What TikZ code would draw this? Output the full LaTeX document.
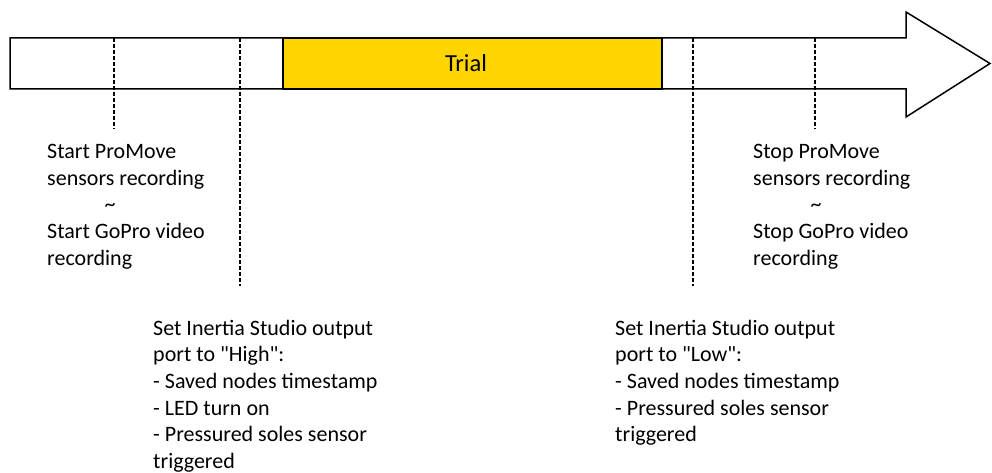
\documentclass[tikz,border=0pt]{standalone}
\usepackage{fontspec}
\setmainfont{Carlito}
\definecolor{trialyellow}{HTML}{FFD500}
\begin{document}
\begin{tikzpicture}[x=1pt,y=-1pt,
  outline/.style={draw=black,line width=1.5pt,line join=miter},
  marker/.style={draw=black,line width=1.2pt,dash pattern=on 4pt off 2pt},
  label/.style={anchor=base west,inner sep=0pt,align=left,font=\fontsize{22}{26.7}\selectfont},
  trialbox/.style={draw=black,line width=1.5pt,fill=trialyellow,minimum width=379pt,minimum height=51pt,inner sep=0pt,font=\fontsize{24.5}{29}\selectfont}]
\useasboundingbox (0,0) rectangle (992,473);
% timeline arrow
\draw[outline,fill=white] (10,38) -- (906,38) -- (906,12) -- (990,63.5) -- (906,117) -- (906,89) -- (10,89) -- cycle;
\node[trialbox] (trial) at (472.5,63.5) {Trial\hspace*{13pt}};
% markers
\coordinate (m1top) at (114,38); \coordinate (m1end) at (114,129);
\coordinate (m2top) at (240,38); \coordinate (m2end) at (240,286);
\coordinate (m3top) at (693,38); \coordinate (m3end) at (693,286);
\coordinate (m4top) at (815,38); \coordinate (m4end) at (815,129);
\draw[marker] (m1top) -- (m1end);
\draw[marker] (m2top) -- (m2end);
\draw[marker] (m3top) -- (m3end);
\draw[marker] (m4top) -- (m4end);
% labels (anchor = baseline of the last line)
\node[label] (start) at (47,265.3) {Start ProMove\\sensors recording\\\hspace*{57.5pt}\textasciitilde\\Start GoPro video\\recording};
\node[label] (stop) at (753,265.3) {Stop ProMove\\sensors recording\\\hspace*{57.5pt}\textasciitilde\\Stop GoPro video\\recording};
\node[label] (high) at (153,468.5) {Set Inertia Studio output\\port to \textquotedbl High\textquotedbl:\\- Saved nodes timestamp\\- LED turn on\\- Pressured soles sensor\\triggered};
\node[label] (low) at (615,441.8) {Set Inertia Studio output\\port to \textquotedbl Low\textquotedbl:\\- Saved nodes timestamp\\- Pressured soles sensor\\triggered};
\end{tikzpicture}
\end{document}
